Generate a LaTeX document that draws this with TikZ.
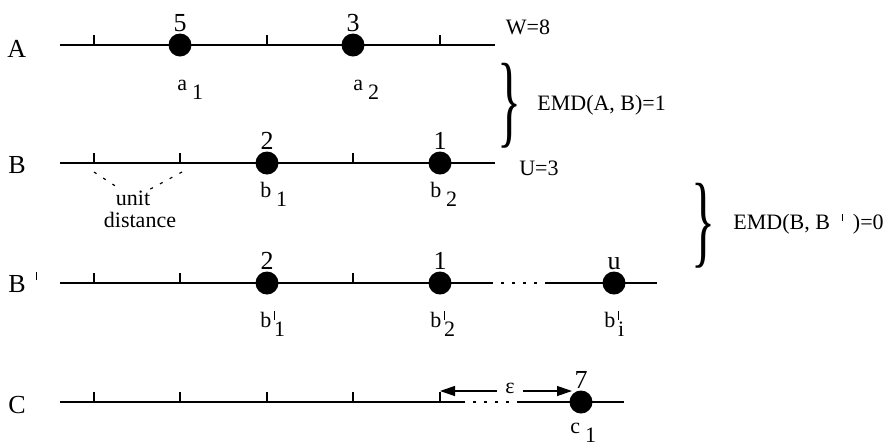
\documentclass[tikz,border=0pt]{standalone}
\usepackage{fontspec}
\setmainfont{Liberation Serif}
\usetikzlibrary{positioning,arrows.meta}
\newcommand{\lowsub}[2]{#1\hspace{0.22em}\raisebox{-0.45em}{#2}}
\newcommand{\barsub}[2]{#1\hspace{0.12em}\rlap{\raisebox{0.32em}{\rule{0.5pt}{0.4em}}}\raisebox{-0.45em}{#2}}
\newcommand{\primebar}{\raisebox{0.42em}{\rule{0.5pt}{0.32em}}}
\newcommand{\bigbrace}{\resizebox*{12pt}{42.5pt}{\fontsize{40}{40}\selectfont\}}}
\tikzset{
  numline/.style={line width=0.85pt},
  dotgap/.style={line width=0.85pt, dash pattern=on 1.5pt off 4pt},
  tickmark/.style={line width=0.6pt},
  ball/.style={circle, fill=black, inner sep=0pt, minimum size=11.5pt},
  weight/.style={font=\fontsize{13}{15}\selectfont, inner sep=0pt},
  rowname/.style={font=\fontsize{13}{15}\selectfont, inner sep=0pt, anchor=base west},
  sublab/.style={font=\fontsize{11}{13}\selectfont, inner sep=0pt, anchor=base west},
  note/.style={font=\fontsize{11}{13}\selectfont, inner sep=0pt},
  bracket/.style={inner sep=0pt},
}
\begin{document}
\begin{tikzpicture}[x=0.5pt, y=-0.5pt, >={Triangle[length=7.5pt,width=5pt]}]
\useasboundingbox (0,0) rectangle (895,446);
% signature A
\node[rowname] (rowA) at (7,57) {A};
\coordinate (A0) at (60,45);
\coordinate (A1) at (495,45);
\draw[numline] (A0) -- (A1);
\foreach \x in {94,267,440} \draw[tickmark] (\x,45) -- (\x,35);
\node[ball] (a1) at (180,45) {};
\node[ball] (a2) at (353,45) {};
\node[weight, above=0.5pt of a1] (wa1) {5};
\node[weight, above=0.5pt of a2] (wa2) {3};
\node[sublab] (la1) at (177,90) {\lowsub{a}{1}};
\node[sublab] (la2) at (353,90) {\lowsub{a}{2}};
\node[note] (totW) at (528,27) {W=8};
% signature B
\node[rowname] (rowB) at (8,173) {B};
\coordinate (B0) at (60,163);
\coordinate (B1) at (495,163);
\draw[numline] (B0) -- (B1);
\foreach \x in {94,180,353} \draw[tickmark] (\x,163) -- (\x,153);
\node[ball] (b1) at (267,163) {};
\node[ball] (b2) at (440,163) {};
\node[weight, above=0.5pt of b1] (wb1) {2};
\node[weight, above=0.5pt of b2] (wb2) {1};
\node[sublab] (lb1) at (260,197) {\lowsub{b}{1}};
\node[sublab] (lb2) at (430,197) {\lowsub{b}{2}};
\node[note] (totU) at (539,168) {U=3};
% unit distance
\node[note, anchor=base] (unit) at (133,205) {unit};
\node[note, anchor=base] (dist) at (140,227) {distance};
\coordinate (u0) at (94,172);
\coordinate (u1) at (182,172);
\draw[dotgap, line width=0.6pt] (u0) -- ([xshift=3pt]unit.north west);
\draw[dotgap, line width=0.6pt] (u1) -- ([xshift=-1pt]unit.north east);
% signature B'
\node[rowname] (rowBp) at (8,292) {B\hspace{0.38em}\raisebox{0.46em}{\rule{0.5pt}{0.31em}}};
\coordinate (P0) at (60,283);
\coordinate (P1) at (490,283);
\coordinate (P2) at (548,283);
\coordinate (P3) at (657,283);
\draw[numline] (P0) -- (P1);
\draw[dotgap] (P1) -- (P2);
\draw[numline] (P2) -- (P3);
\foreach \x in {94,180,353} \draw[tickmark] (\x,283) -- (\x,273);
\node[ball] (p1) at (267,283) {};
\node[ball] (p2) at (440,283) {};
\node[ball] (pi) at (614,283) {};
\node[weight, above=0.5pt of p1] (wp1) {2};
\node[weight, above=0.5pt of p2] (wp2) {1};
\node[weight, above=0.5pt of pi] (wpi) {u};
\node[sublab] (lp1) at (260,327) {\barsub{b}{1}};
\node[sublab] (lp2) at (430,327) {\barsub{b}{2}};
\node[sublab] (lpi) at (604,327) {\barsub{b}{i}};
% signature C
\node[rowname] (rowC) at (8,413) {C};
\coordinate (C0) at (60,402);
\coordinate (C1) at (462,402);
\coordinate (C2) at (517,402);
\coordinate (C3) at (624,402);
\draw[numline] (C0) -- (C1);
\draw[dotgap] (C1) -- (C2);
\draw[numline] (C2) -- (C3);
\foreach \x in {94,180,267,353,440} \draw[tickmark] (\x,402) -- (\x,392);
\node[ball] (c1) at (581,402) {};
\node[weight, above=0.5pt of c1] (wc1) {7};
\node[sublab] (lc1) at (570,433) {\lowsub{c}{1}};
\node[note, inner sep=4pt] (eps) at (510,388) {ε};
\coordinate (epsL) at (440,391);
\coordinate (epsR) at (572,391);
\draw[tickmark, ->] (eps.west |- epsL) -- (epsL);
\draw[tickmark, ->] (eps.east |- epsR) -- (epsR);
% distances
\node[bracket] (brAB) at (509,106) {\bigbrace};
\node[note, anchor=west] (emdAB) at (537,105) {EMD(A, B)=1};
\node[bracket] (brBB) at (703,226) {\bigbrace};
\node[note, anchor=west] (emdBB) at (733,224) {EMD(B, B\hspace{0.55em}\primebar\hspace{0.45em})=0};
\end{tikzpicture}
\end{document}
